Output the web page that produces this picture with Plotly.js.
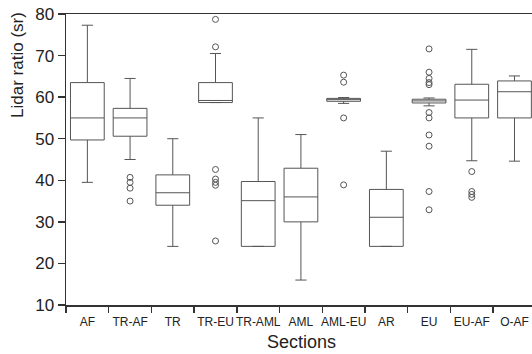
<!DOCTYPE html>
<html>
<head>
<meta charset="utf-8">
<script src="https://cdn.plot.ly/plotly-3.0.1.min.js"></script>
<style>html,body{margin:0;padding:0;overflow:hidden;background:#fff;}#chart{width:532px;height:354px;}</style>
</head>
<body>
<div id="chart"></div>
<script>
var categories = ["AF", "TR-AF", "TR", "TR-EU", "TR-AML", "AML", "AML-EU", "AR", "EU", "EU-AF", "O-AF"];
var lowerFence = [39.5, 45.0, 24.1, 58.7, 24.1, 16.0, 58.5, 24.1, 57.9, 44.7, 44.6];
var q1Values   = [49.7, 50.6, 34.0, 58.7, 24.1, 30.0, 59.0, 24.1, 58.6, 55.0, 55.0];
var medians    = [55.0, 55.0, 37.0, 59.2, 35.1, 36.0, 59.4, 31.1, 59.1, 59.3, 61.3];
var q3Values   = [63.5, 57.3, 41.3, 63.5, 39.7, 42.9, 59.7, 37.8, 59.5, 63.1, 63.9];
var upperFence = [77.3, 64.5, 50.0, 70.5, 55.0, 51.0, 59.9, 47.0, 59.8, 71.5, 65.1];
var outliers = [
  [],
  [40.7, 39.5, 38.1, 35.0],
  [],
  [78.7, 72.1, 42.6, 40.3, 39.5, 38.8, 25.4],
  [],
  [],
  [65.3, 63.6, 55.0, 38.9],
  [],
  [71.6, 66.0, 64.5, 63.5, 63.0, 56.3, 55.0, 50.9, 48.2, 37.3, 32.9],
  [42.1, 37.3, 36.6, 35.9],
  []
];

var outX = [], outY = [];
outliers.forEach(function (list, i) {
  list.forEach(function (v) { outX.push(categories[i]); outY.push(v); });
});

var lineCol = "#555";
var traces = [
  {
    type: "box",
    x: categories,
    q1: q1Values,
    median: medians,
    q3: q3Values,
    lowerfence: lowerFence,
    upperfence: upperFence,
    width: 0.79,
    whiskerwidth: 0.33,
    fillcolor: "rgba(255,255,255,0)",
    line: { color: lineCol, width: 1 },
    boxpoints: false,
    hoverinfo: "skip"
  },
  {
    type: "scatter",
    mode: "markers",
    x: outX,
    y: outY,
    marker: { symbol: "circle-open", size: 6, color: lineCol, line: { width: 1, color: lineCol } },
    hoverinfo: "skip"
  }
];

var fontFam = "Liberation Sans, Arial, sans-serif";
var layout = {
  width: 532,
  height: 354,
  margin: { l: 66, r: 0, t: 14, b: 49, pad: 0 },
  paper_bgcolor: "#fff",
  plot_bgcolor: "#fff",
  showlegend: false,
  font: { family: fontFam, color: "#222" },
  xaxis: {
    type: "category",
    categoryorder: "array",
    categoryarray: categories,
    range: [-0.5, 10.41],
    showgrid: false,
    zeroline: false,
    showline: true,
    mirror: true,
    linecolor: "#333",
    linewidth: 1.5,
    ticks: "outside",
    tickson: "boundaries",
    ticklen: 6,
    tickwidth: 1.5,
    tickcolor: "#333",
    tickangle: 0,
    ticklabelstandoff: 5,
    automargin: false,
    tickfont: { size: 12, family: fontFam, color: "#222" }
  },
  yaxis: {
    range: [10, 80],
    tickvals: [10, 20, 30, 40, 50, 60, 70, 80],
    showgrid: false,
    zeroline: false,
    showline: true,
    linecolor: "#333",
    linewidth: 1.5,
    ticks: "outside",
    ticklen: 7,
    tickwidth: 1.5,
    tickcolor: "#333",
    automargin: false,
    tickfont: { size: 17, family: fontFam, color: "#222" }
  },
  annotations: [
    {
      text: "Lidar ratio (sr)",
      xref: "paper", yref: "paper",
      x: -0.103, y: 0.825,
      xanchor: "center", yanchor: "middle",
      textangle: -90,
      showarrow: false,
      font: { size: 17, family: fontFam, color: "#222" }
    },
    {
      text: "Sections",
      xref: "paper", yref: "paper",
      x: 0.506, y: -0.127,
      xanchor: "center", yanchor: "middle",
      showarrow: false,
      font: { size: 18, family: fontFam, color: "#222" }
    }
  ]
};

Plotly.newPlot("chart", traces, layout, { displayModeBar: false, staticPlot: true });
</script>
</body>
</html>
